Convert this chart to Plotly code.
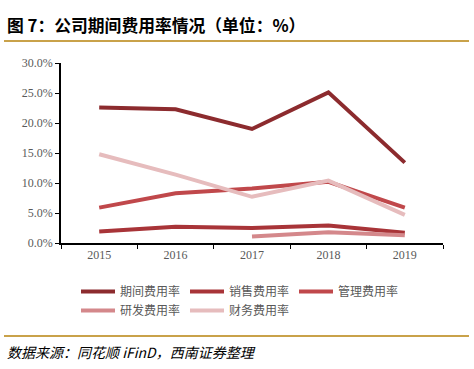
import plotly.graph_objects as go

years = ["2015", "2016", "2017", "2018", "2019"]
period_rate = [22.6, 22.3, 19.0, 25.1, 13.4]
sales_rate = [1.9, 2.7, 2.5, 2.9, 1.7]
admin_rate = [5.9, 8.3, 9.1, 10.2, 5.9]
rd_rate = [None, None, 1.1, 1.8, 1.3]
fin_rate = [14.8, 11.4, 7.7, 10.4, 4.7]

series = [
    ("期间费用率", period_rate, "#8C2B2E"),
    ("销售费用率", sales_rate, "#A83438"),
    ("管理费用率", admin_rate, "#C0484B"),
    ("研发费用率", rd_rate, "#D4888B"),
    ("财务费用率", fin_rate, "#E6BCBD"),
]

fig = go.Figure()
for name, vals, color in series:
    fig.add_trace(go.Scatter(
        x=years, y=[v / 100 if v is not None else None for v in vals],
        name=name, mode="lines", line=dict(color=color, width=4),
        connectgaps=False, hoverinfo="skip",
    ))

W, H = 474, 369
L, R, T, B = 61, 31, 63, 126
pw, ph = W - L - R, H - T - B

def px(x):
    return (x - L) / pw

def py(y):
    return (H - B - y) / ph

fig.update_layout(
    width=W, height=H,
    margin=dict(l=L, r=R, t=T, b=B),
    paper_bgcolor="white", plot_bgcolor="white",
    font=dict(family="Liberation Serif, Noto Sans CJK SC", size=12, color="#595959"),
    xaxis=dict(
        type="category", range=[-0.5, 4.5], automargin=False,
        showline=True, linecolor="#000000", linewidth=1.5,
        ticks="outside", tickson="boundaries", ticklen=4, tickcolor="#000000",
        showgrid=False, zeroline=False,
        tickfont=dict(family="Liberation Serif", size=12, color="#595959"),
    ),
    yaxis=dict(
        range=[0, 0.30], dtick=0.05, tickformat=".1%", automargin=False,
        showline=True, linecolor="#000000", linewidth=1.5,
        ticks="outside", ticklen=4, tickcolor="#000000",
        showgrid=False, zeroline=False,
        tickfont=dict(family="Liberation Serif", size=12, color="#595959"),
    ),
    legend=dict(
        orientation="h", x=px(76), y=py(277), xanchor="left", yanchor="top",
        entrywidth=60, entrywidthmode="pixels", itemwidth=34,
        font=dict(family="Noto Sans CJK SC", size=12, color="#595959"),
        bgcolor="rgba(0,0,0,0)", tracegroupgap=0,
    ),
    showlegend=True,
)

fig.add_annotation(
    xref="paper", yref="paper", x=px(5), y=py(25), xanchor="left", yanchor="middle",
    text="<b>图 7：公司期间费用率情况（单位：%）</b>", showarrow=False,
    font=dict(family="Noto Sans CJK SC", size=16.8, color="#000000"),
)
fig.add_annotation(
    xref="paper", yref="paper", x=px(5), y=py(352), xanchor="left", yanchor="middle",
    text="<i>数据来源：同花顺 iFinD，西南证券整理</i>", showarrow=False,
    font=dict(family="Noto Sans CJK SC", size=14, color="#000000"),
)
for yy in (41, 336):
    fig.add_shape(
        type="line", xref="paper", yref="paper",
        x0=px(4), x1=px(469), y0=py(yy), y1=py(yy),
        line=dict(color="#C9A24A", width=2),
    )

fig.write_html(
    "out.html",
    config={"displayModeBar": False},
    post_script="document.body.style.margin='0';",
)
